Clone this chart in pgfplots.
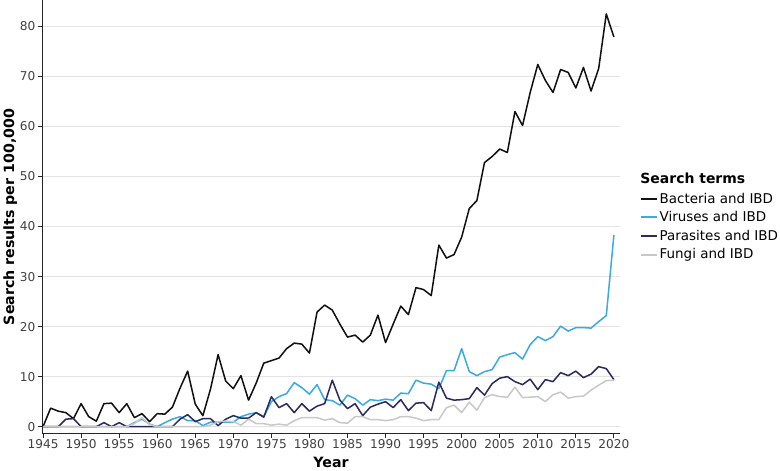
\documentclass[border=0pt]{standalone}
\usepackage{pgfplots}
\usepackage{pgfplotstable}
\pgfplotsset{compat=1.18}
\usepackage{fontspec}
\setmainfont{DejaVu Sans}
\definecolor{bact}{HTML}{111111}
\definecolor{vir}{HTML}{3AAADF}
\definecolor{para}{HTML}{2B2A5E}
\definecolor{fung}{HTML}{C8C8C8}
\definecolor{gridc}{HTML}{E3E3E3}
\pgfplotstableread{
year b v p f
1945 0.0 0.0 0.0 0.0
1946 3.7 0.0 0.0 0.0
1947 3.1 0.0 0.0 0.0
1948 2.8 0.0 1.5 0.0
1949 1.6 0.0 1.6 0.0
1950 4.6 0.0 0.0 0.0
1951 2.0 0.0 0.0 0.0
1952 1.1 0.0 0.0 0.0
1953 4.6 0.0 0.8 0.0
1954 4.7 0.0 0.0 0.0
1955 2.8 0.0 0.8 0.0
1956 4.6 0.0 0.0 0.0
1957 1.8 0.8 0.0 0.6
1958 2.6 1.5 0.0 1.8
1959 1.0 0.5 0.0 0.4
1960 2.6 0.0 0.0 0.0
1961 2.5 0.8 0.0 0.0
1962 3.9 1.5 0.0 0.0
1963 7.7 2.0 1.5 0.0
1964 11.1 1.2 2.4 0.0
1965 4.5 1.2 1.0 0.0
1966 2.2 0.2 1.6 0.0
1967 7.5 0.9 1.6 0.3
1968 14.4 0.9 0.2 1.0
1969 9.1 0.9 1.5 1.1
1970 7.6 0.9 2.2 1.0
1971 10.2 2.0 1.7 0.3
1972 5.3 2.5 1.7 1.5
1973 8.7 2.8 2.8 0.6
1974 12.7 2.0 1.9 0.6
1975 13.2 5.0 6.0 0.3
1976 13.7 6.0 3.8 0.5
1977 15.6 6.6 4.6 0.3
1978 16.7 8.8 2.8 1.2
1979 16.5 7.8 4.6 1.8
1980 14.7 6.5 3.1 1.8
1981 22.9 8.4 4.1 1.8
1982 24.3 5.4 4.6 1.3
1983 23.3 5.2 9.3 1.6
1984 20.5 4.3 5.3 0.8
1985 17.9 6.3 3.6 0.7
1986 18.3 5.6 4.6 2.0
1987 16.9 4.3 2.2 2.0
1988 18.3 5.4 3.9 1.4
1989 22.3 5.2 4.5 1.4
1990 16.8 5.5 5.0 1.2
1991 20.5 5.3 3.8 1.4
1992 24.1 6.7 5.4 2.0
1993 22.4 6.6 3.2 2.0
1994 27.8 9.3 4.7 1.7
1995 27.4 8.7 4.8 1.2
1996 26.2 8.5 3.2 1.4
1997 36.3 7.6 8.9 1.4
1998 33.7 11.2 5.7 3.8
1999 34.4 11.2 5.3 4.3
2000 37.9 15.6 5.4 2.8
2001 43.6 11.0 5.6 4.9
2002 45.2 10.2 7.8 3.3
2003 52.8 11.0 6.3 5.8
2004 54.0 11.4 8.6 6.4
2005 55.5 13.9 9.7 6.0
2006 54.8 14.4 10.0 5.9
2007 63.0 14.8 9.0 7.9
2008 60.2 13.5 8.4 5.8
2009 66.8 16.4 9.5 5.9
2010 72.4 18.0 7.4 6.0
2011 69.2 17.2 9.4 5.0
2012 66.8 18.0 9.0 6.4
2013 71.4 20.1 10.8 6.9
2014 70.8 19.1 10.2 5.7
2015 67.7 19.8 11.1 6.0
2016 71.8 19.8 9.8 6.1
2017 67.1 19.7 10.5 7.3
2018 71.6 21.0 12.0 8.3
2019 82.5 22.2 11.6 9.2
2020 77.9 38.3 9.4 9.3
}\datatable
\begin{document}
\begin{tikzpicture}
\begin{axis}[
  scale only axis, width=571pt, height=428pt,
  xmin=1944.87, xmax=2020.8, ymin=-1.4, ymax=85.2,
  clip=false,
  axis lines=left, axis line style={-, line width=0.9pt, black!85},
  xtick={1945,1950,...,2020}, ytick={0,10,...,80},
  ymajorgrids, grid style={gridc, line width=0.9pt},
  tick align=outside, major tick length=4pt,
  tick style={black!85, line width=0.8pt},
  /pgf/number format/.cd, 1000 sep={}, assume math mode=true, /pgfplots/.cd,
  ticklabel style={font=\fontsize{12}{14}\selectfont, text=black!75},
  xticklabel style={yshift=1.5pt},
  yticklabel style={xshift=1pt},
  xlabel={Year}, ylabel={Search results per 100,000},
  label style={font=\bfseries\fontsize{14}{16}\selectfont},
  xlabel style={yshift=-1pt},
  ylabel style={yshift=-4pt},
  legend style={at={(axis description cs:1.035,0.561)}, anchor=north west,
    draw=none, fill=none, inner sep=0pt, row sep=2.8pt,
    font=\fontsize{13.3}{15}\selectfont},
  legend cell align=left,
  legend image code/.code={\draw[#1, line width=2pt] (0pt,0pt) -- (15pt,0pt);},
  every axis plot/.append style={line width=1.5pt, line join=round},
]
\addplot[bact, no marks] table[x=year, y=b] {\datatable};
\addlegendentry{Bacteria and IBD}
\addplot[vir, no marks] table[x=year, y=v] {\datatable};
\addlegendentry{Viruses and IBD}
\addplot[para, no marks] table[x=year, y=p] {\datatable};
\addlegendentry{Parasites and IBD}
\addplot[fung, no marks] table[x=year, y=f] {\datatable};
\addlegendentry{Fungi and IBD}
\node[anchor=west, inner sep=0pt, font=\bfseries\fontsize{13.8}{16}\selectfont] at (axis description cs:1.035,0.589) {Search terms};
\end{axis}
\end{tikzpicture}
\end{document}
